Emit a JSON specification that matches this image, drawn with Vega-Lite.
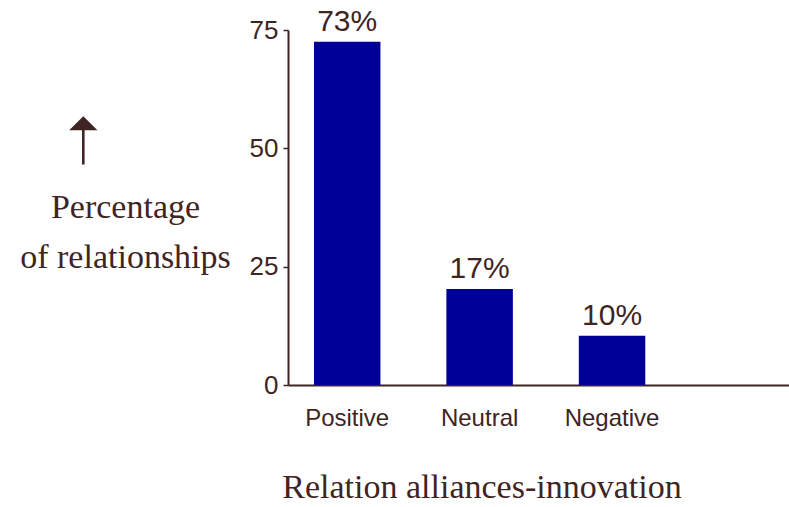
{
  "$schema": "https://vega.github.io/schema/vega-lite/v6.json",
  "width": 501,
  "height": 355,
  "autosize": {"type": "none"},
  "padding": {"left": 288, "top": 30, "right": 0, "bottom": 122},
  "background": "white",
  "title": {
    "text": "➝",
    "orient": "left",
    "anchor": "middle",
    "frame": "group",
    "font": "DejaVu Sans",
    "fontSize": 66,
    "fontWeight": "normal",
    "color": "#3f2424",
    "offset": -98,
    "dx": 67
  },
  "data": {
    "values": [
      {"category": "Positive", "value": 72.5, "label": "73%"},
      {"category": "Neutral", "value": 20.3, "label": "17%"},
      {"category": "Negative", "value": 10.4, "label": "10%"}
    ]
  },
  "encoding": {
    "x": {
      "field": "category",
      "type": "nominal",
      "sort": null,
      "scale": {"paddingInner": 0.498, "paddingOuter": 0.6406, "align": 0.153},
      "axis": {
        "title": "Relation alliances-innovation",
        "labelAngle": 0,
        "ticks": false,
        "labelPadding": 21,
        "labelFont": "Liberation Sans",
        "labelFontSize": 24,
        "labelColor": "#3f2424",
        "domainColor": "#3f2424",
        "domainWidth": 2,
        "titleFont": "Liberation Serif",
        "titleFontSize": 34,
        "titleFontWeight": "normal",
        "titleColor": "#3f2424",
        "titleX": 193.5,
        "titleY": 112,
        "titleAlign": "center",
        "titleBaseline": "alphabetic"
      }
    }
  },
  "layer": [
    {
      "mark": {"type": "bar", "color": "#000099"},
      "encoding": {
        "y": {
          "field": "value",
          "type": "quantitative",
          "scale": {"domain": [0, 75], "nice": false},
          "axis": {
            "orient": "left",
            "values": [0, 25, 50, 75],
            "grid": false,
            "tickSize": 5,
            "tickWidth": 1.5,
            "tickColor": "#3f2424",
            "labelPadding": 5,
            "labelFont": "Liberation Sans",
            "labelFontSize": 26,
            "labelColor": "#3f2424",
            "domainColor": "#3f2424",
            "domainWidth": 2,
            "title": ["Percentage", "of relationships"],
            "titleFont": "Liberation Serif",
            "titleFontSize": 34,
            "titleFontWeight": "normal",
            "titleColor": "#3f2424",
            "titleAngle": 0,
            "titleAlign": "center",
            "titleBaseline": "alphabetic",
            "titleX": -163,
            "titleY": 187,
            "titleLineHeight": 50,
            "encode": {"ticks": {"update": {"x": {"value": 8}}}}
          }
        }
      }
    },
    {
      "mark": {
        "type": "text",
        "baseline": "alphabetic",
        "dy": -11,
        "font": "Liberation Sans",
        "fontSize": 30,
        "color": "#3f2424"
      },
      "encoding": {
        "y": {"field": "value", "type": "quantitative"},
        "text": {"field": "label"}
      }
    }
  ],
  "config": {"view": {"stroke": null}}
}
